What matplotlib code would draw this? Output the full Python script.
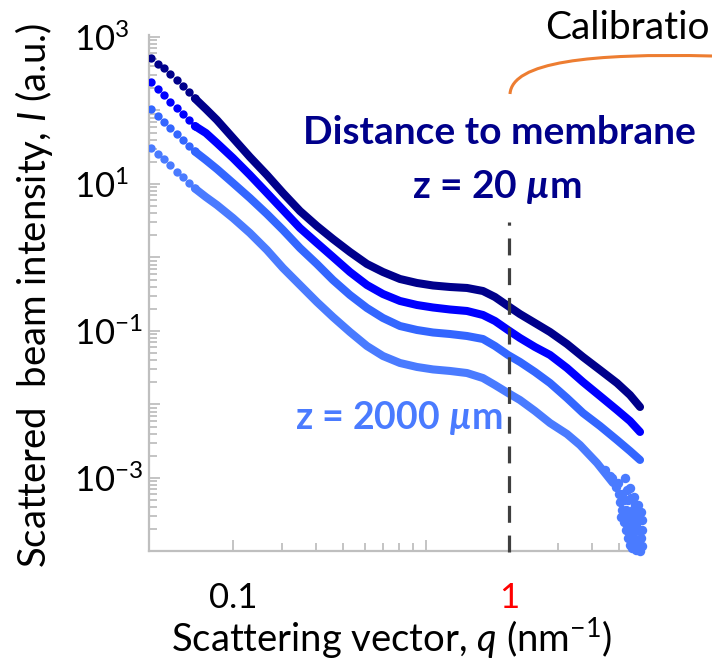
import matplotlib.pyplot as plt
import matplotlib as mpl
from matplotlib.path import Path
from matplotlib.patches import PathPatch
from matplotlib.ticker import FixedLocator, FixedFormatter, NullFormatter

mpl.rcParams["font.family"] = ["Lato", "DejaVu Sans"]
mpl.rcParams["mathtext.fontset"] = "custom"
mpl.rcParams["mathtext.rm"] = "Lato"
mpl.rcParams["mathtext.it"] = "Lato:italic"
mpl.rcParams["mathtext.bf"] = "Lato:bold"
mpl.rcParams["mathtext.bfit"] = "Lato:italic:bold"

# ---- data ----
# first few measured points, drawn as separate dots
q_head = [0.0503, 0.0536, 0.0562, 0.0591, 0.0625, 0.0661, 0.0695, 0.0728]
# rest of the curve, drawn as a thick line of merged dots
q_body = [0.0728, 0.0798, 0.0875, 0.1000, 0.1152, 0.1328, 0.1518, 0.1749,
          0.2015, 0.2303, 0.2654, 0.3058, 0.3495, 0.4028, 0.4642, 0.5305,
          0.6113, 0.7046, 0.8049, 0.8898, 0.9917, 1.096, 1.242, 1.408,
          1.622, 1.854, 2.137, 2.462, 2.744, 2.984]

I_z20_head = [513, 430, 373, 314, 256, 212, 179, 146]
I_z20_body = [146, 104.8, 74.3, 42.3, 23.3, 13.26, 7.55, 4.29,
              2.68, 1.785, 1.188, 0.816, 0.635, 0.510, 0.450, 0.416,
              0.397, 0.385, 0.350, 0.290, 0.219, 0.170, 0.1285, 0.0969,
              0.0666, 0.0443, 0.0295, 0.0196, 0.01346, 0.00925]

I_b2_head = [242, 196, 163, 132, 107, 89.6, 74.3, 61.5]
I_b2_body = [61.5, 49.4, 36.1, 22.6, 13.26, 7.55, 4.43, 2.52,
             1.575, 1.016, 0.635, 0.4225, 0.3187, 0.2561, 0.2258, 0.2088,
             0.1961, 0.1872, 0.1651, 0.1368, 0.1032, 0.0803, 0.0606, 0.0472,
             0.0314, 0.0202, 0.01305, 0.00842, 0.00596, 0.00423]

I_b3_head = [105, 84.9, 70.4, 57.3, 47.5, 39.7, 33.2, 27.7]
I_b3_body = [27.7, 21.2, 16.0, 10.32, 6.45, 3.91, 2.37, 1.347,
             0.816, 0.494, 0.309, 0.2056, 0.1503, 0.1169, 0.1032, 0.0954,
             0.0910, 0.0855, 0.0778, 0.0625, 0.0472, 0.0379, 0.0277, 0.0196,
             0.01226, 0.00766, 0.00510, 0.00329, 0.00233, 0.00176]

I_z2000_head = [31.2, 25.4, 21.7, 18.0, 14.7, 12.6, 10.4, 8.69]
q_z2000_body = [0.0728, 0.0798, 0.0875, 0.1000, 0.1152, 0.1328, 0.1518, 0.1749,
                0.2015, 0.2303, 0.2654, 0.3058, 0.3495, 0.4028, 0.4642, 0.5305,
                0.6113, 0.7046, 0.8049, 0.8898, 0.9917, 1.096, 1.242, 1.408,
                1.622, 1.808, 2.084, 2.381]
I_z2000_body = [8.69, 6.65, 5.18, 3.45, 2.154, 1.265, 0.720, 0.4225,
                0.248, 0.155, 0.0969, 0.0625, 0.0457, 0.0367, 0.0324, 0.0300,
                0.0286, 0.0268, 0.0229, 0.0184, 0.01434, 0.01151, 0.00816, 0.00560,
                0.00397, 0.00281, 0.00160, 0.000855]
# noisy tail of the z = 2000 um curve
q_tail = [2.362, 2.442, 2.504, 2.525, 2.566, 2.546, 2.610, 2.655, 2.699, 2.743,
          2.791, 2.633, 2.743, 2.837, 2.933, 3.008, 3.034, 3.034, 3.008, 3.034,
          2.984, 2.699, 2.813, 2.886, 2.864, 2.610, 2.791, 2.910,
          2.677, 2.767, 2.861, 2.744, 2.934, 2.838, 2.934, 2.721, 2.885, 2.567,
          2.654, 2.814, 2.958, 2.632, 2.767, 2.909, 2.227, 2.323, 2.483]
I_tail = [1.0e-3, 7.55e-4, 6.06e-4, 4.71e-4, 3.67e-4, 2.95e-4, 2.52e-4, 1.96e-4,
          1.53e-4, 1.23e-4, 1.12e-4, 1.0e-3, 7.31e-4, 5.51e-4, 4.29e-4, 3.44e-4,
          2.68e-4, 1.96e-4, 1.53e-4, 1.19e-4, 1.02e-4, 5.02e-4, 3.67e-4, 2.30e-4,
          1.43e-4, 5.02e-4, 2.30e-4, 1.23e-4,
          6.87e-4, 5.35e-4, 4.29e-4, 3.14e-4, 2.86e-4, 1.84e-4, 1.43e-4, 2.09e-4,
          1.05e-4, 6.06e-4, 3.67e-4, 2.68e-4, 1.96e-4, 2.86e-4, 1.57e-4, 3.44e-4,
          1.28e-3, 1.06e-3, 8.55e-4]

x_major = [0.1, 0.5, 1]
x_major_labels = ["0.1", "", "1"]
x_minor = [0.15, 0.2, 0.25, 0.3, 0.35, 0.4, 0.45, 1.5, 2.0, 2.5]
y_major = [1e-4, 1e-3, 1e-2, 1e-1, 1e0, 1e1, 1e2, 1e3]
y_major_labels = ["", r"$10^{-3}$", "", r"$10^{-1}$", "", r"$10^{1}$", "", r"$10^{3}$"]
y_minor = [m * 10.0 ** k for k in range(-4, 3) for m in range(2, 10)]

q_marker_line = 1.0
I_marker_line = (1e-4, 3.0)

C = {
    "z20": "#00008B",
    "b2": "#0000FF",
    "b3": "#3366FF",
    "z2000": "#4A7BFF",
    "axis": "#BFBFBF",
    "dash": "#3F3F3F",
    "orange": "#ED7D31",
}

W, H = 712, 663
fig = plt.figure(figsize=(W / 100, H / 100), dpi=100)
ax = fig.add_axes([149 / W, 1 - 551 / H, (644 - 149) / W, (551 - 35) / H])
ax.set_xscale("log")
ax.set_yscale("log")

MS, LW = 6.0, 5.8
series = [
    (q_z2000_body, I_z2000_head, I_z2000_body, C["z2000"]),
    (q_body, I_b3_head, I_b3_body, C["b3"]),
    (q_body, I_b2_head, I_b2_body, C["b2"]),
    (q_body, I_z20_head, I_z20_body, C["z20"]),
]
for qb, ih, ib, col in series:
    ax.plot(q_head, ih, "o", ms=MS, color=col, mec="none", zorder=3)
    ax.plot(qb, ib, "-", lw=LW, color=col, solid_capstyle="round",
            solid_joinstyle="round", zorder=3)
ax.plot(q_tail, I_tail, "o", ms=MS + 0.8, color=C["z2000"], mec="none", zorder=3,
        clip_on=False)

# dashed marker at q = 1
ax.plot([q_marker_line, q_marker_line], I_marker_line, color=C["dash"], lw=2.3,
        linestyle=(0, (5.3, 4.0)), zorder=4, clip_on=False)

ax.set_xlim(0.04966, 3.084)
ax.set_ylim(1.016e-4, 1064)

for s in ("top", "right"):
    ax.spines[s].set_visible(False)
for s in ("left", "bottom"):
    ax.spines[s].set_color(C["axis"])
    ax.spines[s].set_linewidth(1.6)
ax.spines["bottom"].set_bounds(0.04966, 2.75)

ax.xaxis.set_major_locator(FixedLocator(x_major))
ax.xaxis.set_major_formatter(FixedFormatter(x_major_labels))
ax.xaxis.set_minor_locator(FixedLocator(x_minor))
ax.xaxis.set_minor_formatter(NullFormatter())
ax.yaxis.set_major_locator(FixedLocator(y_major))
ax.yaxis.set_major_formatter(FixedFormatter(y_major_labels))
ax.yaxis.set_minor_locator(FixedLocator(y_minor))
ax.yaxis.set_minor_formatter(NullFormatter())

ax.tick_params(which="both", direction="in", color=C["axis"], width=1.3)
ax.tick_params(which="major", length=8)
ax.tick_params(which="minor", length=5.5)
ax.tick_params(axis="x", which="major", labelsize=25, pad=22)
ax.tick_params(axis="y", which="major", labelsize=25, pad=54)
for t in ax.get_yticklabels():
    t.set_horizontalalignment("left")
ax.get_xticklabels()[2].set_color("red")

# axis titles
fig.text(392 / W, 1 - 638 / H, r"Scattering vector, $q$ (nm$^{-1}$)", fontsize=27.5,
         ha="center", va="center")
fig.text(34 / W, 1 - 295 / H, r"Scattered  beam intensity, $I$ (a.u.)", fontsize=27.5,
         ha="center", va="center", rotation=90)

# annotations
fig.text(499 / W, 1 - 133 / H, "Distance to membrane", fontsize=28, fontweight="bold",
         color=C["z20"], ha="center", va="center")
fig.text(497 / W, 1 - 187 / H, r"z = 20 $\mathbfit{µ}$m", fontsize=28, fontweight="bold",
         color=C["z20"], ha="center", va="center")
fig.text(399 / W, 1 - 418 / H, r"z = 2000 $\mathbfit{µ}$m", fontsize=27, fontweight="bold",
         color=C["z2000"], ha="center", va="center")
fig.text(545 / W, 1 - 28 / H, "Calibratio", fontsize=28, ha="left", va="center")

# orange bracket at the top right
pts = [(510, 94), (512, 62), (590, 53), (712, 56)]
path = Path([(x / W, 1 - y / H) for x, y in pts],
            [Path.MOVETO, Path.CURVE4, Path.CURVE4, Path.CURVE4])
fig.add_artist(PathPatch(path, transform=fig.transFigure, fill=False,
                         edgecolor=C["orange"], lw=2.2))

fig.savefig("out.png", dpi=100, facecolor="white")
